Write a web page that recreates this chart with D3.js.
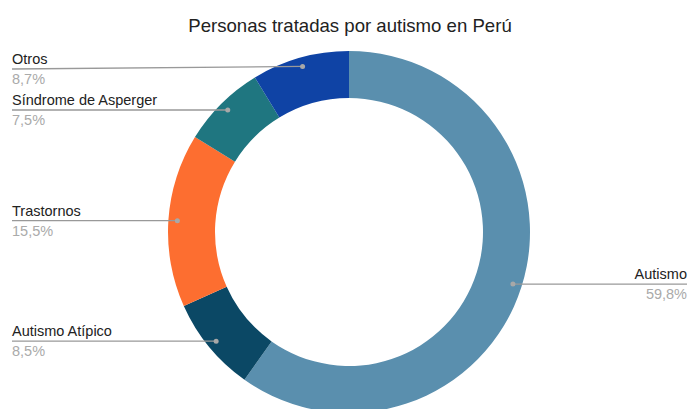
<!DOCTYPE html>
<html>
<head>
<meta charset="utf-8">
<script src="https://cdn.jsdelivr.net/npm/d3@7"></script>
<style>
  body { margin: 0; background: #fff; }
  text { font-family: "Liberation Sans", Arial, sans-serif; }
</style>
</head>
<body>
<div id="container"></div>
<script>
// chart data
let categories = ["Autismo", "Autismo Atípico", "Trastornos", "Síndrome de Asperger", "Otros"];
let values = [59.8, 8.5, 15.5, 7.5, 8.7];
let pctLabels = ["59,8%", "8,5%", "15,5%", "7,5%", "8,7%"];
let colors = ["#5a8fae", "#0b4865", "#fd6e30", "#1f7680", "#0f43a5"];

let w = 690;
let h = 409;
let cx = 349, cy = 232;
let outerR = 181, innerR = 134, dotR = 172;

let svg = d3.select("#container")
  .append("svg")
  .attr("width", w)
  .attr("height", h);

svg.append("text")
  .attr("x", 350)
  .attr("y", 32)
  .attr("text-anchor", "middle")
  .style("font-size", "18.6px")
  .style("fill", "#222")
  .text("Personas tratadas por autismo en Perú");

let data = categories.map((c, i) => ({ name: c, value: values[i], pct: pctLabels[i], color: colors[i] }));

let pie = d3.pie().sort(null).value(d => d.value);
let arcs = pie(data);

let g = svg.append("g")
  .attr("transform", "translate(" + cx + "," + cy + ")");

g.selectAll("path")
  .data(arcs)
  .enter()
  .append("path")
  .attr("d", d3.arc().innerRadius(innerR).outerRadius(outerR))
  .attr("fill", d => d.data.color);

// leader lines + labels
let dotArc = d3.arc().innerRadius(dotR).outerRadius(dotR);

arcs.forEach(d => {
  let p = dotArc.centroid(d);
  let px = cx + p[0], py = cy + p[1];
  let right = px > cx;
  let lineY = Math.max(py, 69);
  let x0 = right ? 687 : 12;

  svg.append("line")
    .attr("x1", x0).attr("y1", lineY)
    .attr("x2", px).attr("y2", py)
    .attr("stroke", "#999")
    .attr("stroke-width", 1.3);

  svg.append("circle")
    .attr("cx", px).attr("cy", py)
    .attr("r", 2.5)
    .attr("fill", "#a8a8a8");

  svg.append("text")
    .attr("x", x0)
    .attr("y", lineY - 5)
    .attr("text-anchor", right ? "end" : "start")
    .style("font-size", "14.5px")
    .style("fill", "#222")
    .text(d.data.name);

  svg.append("text")
    .attr("x", x0)
    .attr("y", lineY + 15)
    .attr("text-anchor", right ? "end" : "start")
    .style("font-size", "14.5px")
    .style("fill", "#aaa")
    .text(d.data.pct);
});
</script>
</body>
</html>
